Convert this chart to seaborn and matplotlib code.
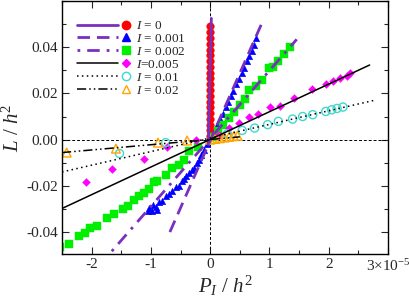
import pandas as pd
import seaborn as sns
import matplotlib.pyplot as plt
import matplotlib.ticker as ticker
from matplotlib.lines import Line2D
from matplotlib.legend_handler import HandlerBase


sns.set_theme(style='ticks')
plt.rcParams['font.family'] = ['Liberation Serif', 'DejaVu Serif']
plt.rcParams['mathtext.fontset'] = 'custom'
plt.rcParams['mathtext.rm'] = 'Liberation Serif'
plt.rcParams['mathtext.it'] = 'Liberation Serif:italic'
plt.rcParams['axes.unicode_minus'] = False


# P_I values are in units of 1e-5 (the "3x10^-5" tick label)
# I = 0
x_i0 = [0.0] * 20
y_i0 = [0.0015, 0.004, 0.0065, 0.009, 0.0115, 0.014, 0.0165, 0.019, 0.0215, 0.024,
        0.0265, 0.029, 0.0315, 0.034, 0.0365, 0.039, 0.0415, 0.044, 0.0465, 0.049]
fit_x_i0 = [-0.03, 0.02]
fit_y_i0 = [-0.002, 0.0525]

# I = 0.001
x_i1 = [-1.05, -0.98, -0.9, -1.03, -0.97, -0.92, -0.86, -0.81, -0.75, -0.7, -0.64, -0.58,
        -0.53, -0.48, -0.44, -0.4, -0.36, -0.31, -0.27, -0.23, -0.19, -0.15, -0.1, -0.05,
        0.03, 0.08, 0.12, 0.17, 0.21, 0.26, 0.3, 0.35, 0.39, 0.44, 0.48, 0.53, 0.57,
        0.62, 0.66, 0.7, 0.74, 0.78]
y_i1 = [-0.031, -0.031, -0.0305, -0.0295, -0.0285, -0.029, -0.027, -0.0266, -0.0245,
        -0.0235, -0.0223, -0.0205, -0.0201, -0.018, -0.0172, -0.0158, -0.0143, -0.013,
        -0.0122, -0.01, -0.0086, -0.0065, -0.0045, -0.002,
        0.0012, 0.004, 0.0062, 0.009, 0.0112, 0.014, 0.0162, 0.019, 0.0212, 0.024,
        0.0262, 0.029, 0.0312, 0.034, 0.0362, 0.0385, 0.041, 0.044]
fit_x_i1 = [-0.68, 0.87]
fit_y_i1 = [-0.040, 0.0503]

# I = 0.002
x_i2 = [-2.53, -2.39, -2.22, -2.12, -2.02, -1.91, -1.74, -1.63, -1.47, -1.38, -1.29,
        -1.2, -1.12, -1.03, -0.95, -0.89, -0.75, -0.64, -0.53, -0.44, -0.36, -0.2,
        0.04, 0.13, 0.22, 0.31, 0.41, 0.5, 0.59, 0.66, 0.78, 0.87, 1.0, 1.06, 1.15,
        1.25, 1.34]
y_i2 = [-0.0463, -0.0452, -0.0419, -0.0406, -0.0384, -0.0373, -0.0341, -0.0323,
        -0.0301, -0.0287, -0.0261, -0.0244, -0.0229, -0.0215, -0.0182, -0.0179,
        -0.0151, -0.0122, -0.0108, -0.0086, -0.005, -0.003,
        0.0012, 0.0039, 0.0065, 0.0092, 0.0121, 0.0148, 0.0175, 0.0215, 0.0231,
        0.0258, 0.031, 0.0314, 0.034, 0.037, 0.040]
fit_x_i2 = [-1.66, 1.46]
fit_y_i2 = [-0.0483, 0.0434]

# I = 0.005
x_i5 = [-2.1, -1.66, -1.12, -0.73, -0.24, 0.15, 0.32, 0.49, 0.66, 0.8, 1.01, 1.17,
        1.41, 1.72, 1.95, 2.07, 2.19, 2.3, 2.36]
y_i5 = [-0.0185, -0.0129, -0.0082, -0.003, 0.0, 0.0022, 0.005, 0.0072, 0.01, 0.0112,
        0.014, 0.0147, 0.018, 0.0218, 0.024, 0.0255, 0.0266, 0.0275, 0.0288]
fit_x_i5 = [-2.5, 2.69]
fit_y_i5 = [-0.0298, 0.0323]

# I = 0.01
x_i10 = [-1.53, -0.75, 0.29, 0.54, 0.75, 0.97, 1.15, 1.39, 1.56, 1.73, 1.95, 2.05,
         2.14, 2.24]
y_i10 = [-0.006, -0.0013, 0.0025, 0.004, 0.005, 0.0065, 0.0079, 0.0089, 0.01,
         0.0108, 0.0122, 0.0129, 0.0135, 0.0141]
fit_x_i10 = [-2.5, 2.8]
fit_y_i10 = [-0.014, 0.0172]

# I = 0.02
x_i20 = [-2.42, -1.59, -0.88, -0.39, 0.0, 0.08, 0.16, 0.24, 0.32, 0.4, 0.46]
y_i20 = [-0.0056, -0.0039, -0.0013, -0.0004, 0.0, 0.0003, 0.0006, 0.0009, 0.0012,
         0.0015, 0.0017]
fit_x_i20 = [-2.5, 0.5]
fit_y_i20 = [-0.0056, 0.0012]

labels = [r'$I$ = 0', r'$I$ = 0.001', r'$I$ = 0.002', r'$I$=0.005', r'$I$ = 0.01', r'$I$ = 0.02']

violet = '#7b2fbe'
series = [
    (x_i0, y_i0, fit_x_i0, fit_y_i0, 'o', 'red', 'red', 30, violet, '-', 2.0),
    (x_i1, y_i1, fit_x_i1, fit_y_i1, '^', 'blue', 'blue', 22, violet, (0, (4.5, 2.5)), 2.0),
    (x_i2, y_i2, fit_x_i2, fit_y_i2, 's', '#00ee00', '#00ee00', 28, violet, (0, (1, 2.5, 4.5, 2.5)), 2.0),
    (x_i5, y_i5, fit_x_i5, fit_y_i5, 'D', 'magenta', 'magenta', 16, 'black', '-', 1.1),
    (x_i10, y_i10, fit_x_i10, fit_y_i10, 'o', 'none', '#40d8d0', 34, 'black', (0, (1, 2.2)), 1.1),
    (x_i20, y_i20, fit_x_i20, fit_y_i20, '^', 'none', 'orange', 40, 'black', (0, (6, 2, 1, 2, 1, 2)), 1.1),
]


class LineMarker(HandlerBase):
    def create_artists(self, legend, orig_handle, xdescent, ydescent, width, height, fontsize, trans):
        ln, mk = orig_handle
        y = height / 2.0 - ydescent
        x0 = -xdescent
        a = Line2D([x0, x0 + 0.78 * width], [y, y])
        a.update_from(ln)
        a.set_transform(trans)
        b = Line2D([x0 + 0.93 * width], [y])
        b.update_from(mk)
        b.set_transform(trans)
        return [a, b]


fig = plt.figure(figsize=(4.09, 3.0), dpi=100)
ax = fig.add_axes([62 / 409, 46 / 300, 326 / 409, 253 / 300])

ax.axhline(0, color='black', lw=0.7, ls=(0, (3, 2)), zorder=1)
ax.axvline(0, color='black', lw=0.7, ls=(0, (3, 2)), zorder=1)

handles = []
for xs, ys, fx, fy, mk, fc, ec, s, lc, ls, lw in series:
    sns.scatterplot(x=xs, y=ys, marker=mk, s=s, color=ec, facecolor=fc, edgecolor=ec,
                    linewidth=1.0 if fc == 'none' else 0.3, ax=ax, zorder=2, legend=False)
    ax.plot(fx, fy, color=lc, ls=ls, lw=lw, zorder=3)
    pl = Line2D([], [], color=lc, ls=ls, lw=lw)
    pm = Line2D([], [], ls='none', marker=mk, markersize=6 if mk != 'D' else 4.5,
                markerfacecolor=fc, markeredgecolor=ec, markeredgewidth=1.0)
    handles.append((pl, pm))

ax.set_xlim(-2.5, 3.0)
ax.set_ylim(-0.0495, 0.06)

ax.set_xticks([-2, -1, 0, 1, 2, 3])
ax.set_xticklabels(['-2', '-1', '0', '1', '2', r'3$\times$10$^{-5}$'])
ax.xaxis.set_minor_locator(ticker.MultipleLocator(0.5))
ax.set_yticks([-0.04, -0.02, 0.0, 0.02, 0.04])
ax.yaxis.set_major_formatter(ticker.FormatStrFormatter('%.2f'))
ax.yaxis.set_minor_locator(ticker.MultipleLocator(0.01))
ax.tick_params(which='both', direction='in', top=True, right=True, labelsize=11, pad=3, width=0.8)
ax.tick_params(which='major', length=5)
ax.tick_params(which='minor', length=3)
for sp in ax.spines.values():
    sp.set_linewidth(1.0)
    sp.set_color('black')

ax.set_xlabel(r'$P_I$ / $h^2$', fontsize=15, labelpad=0)
ax.set_ylabel(r'$L$ / $h^2$', fontsize=15, labelpad=2)

ax.legend(handles=handles, labels=labels, handler_map={tuple: LineMarker()},
          loc='upper left', bbox_to_anchor=(0.046, 0.925), frameon=False, fontsize=9.5,
          handlelength=4.0, handletextpad=0.5, labelspacing=0.05, borderpad=0, borderaxespad=0)

plt.savefig('out.png', dpi=100)
